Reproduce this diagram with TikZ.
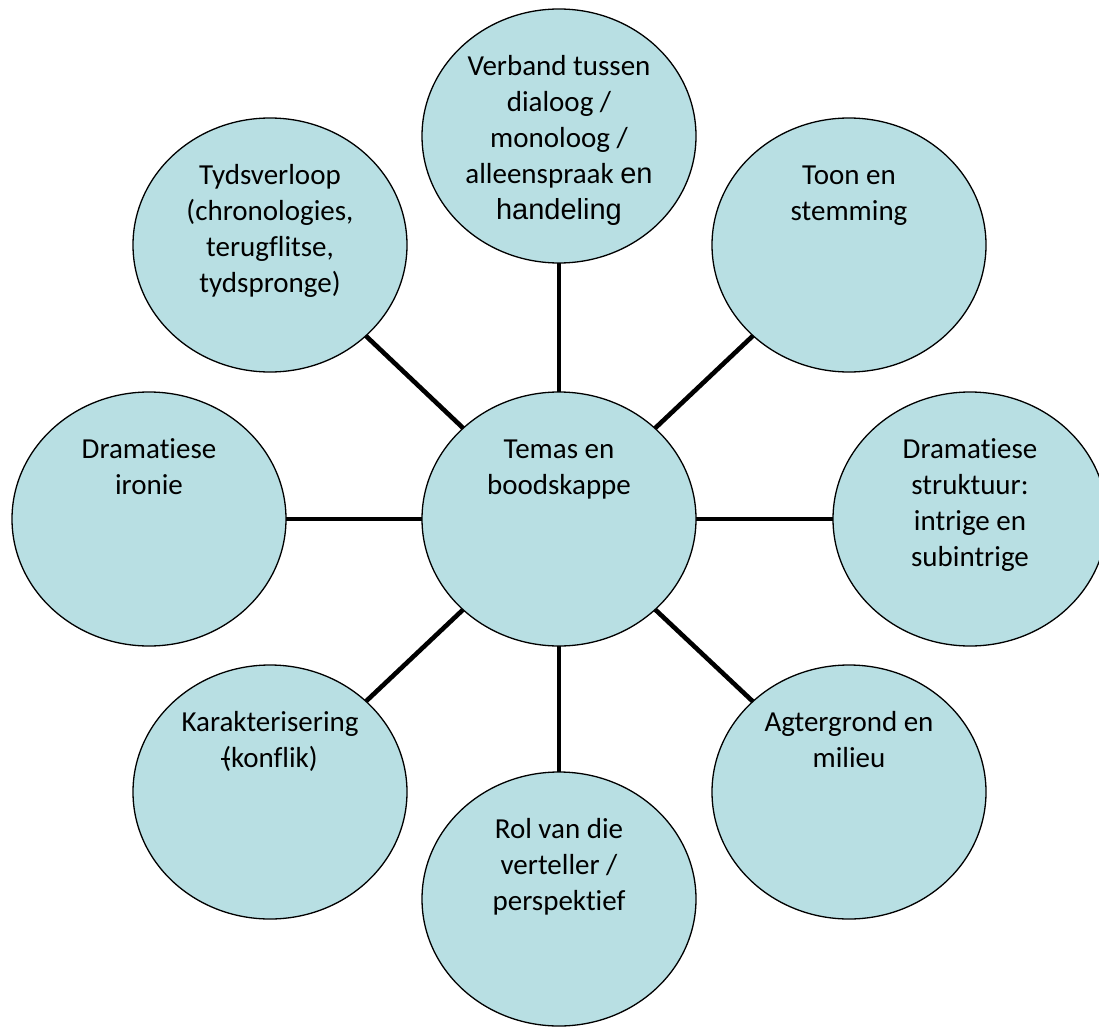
\documentclass[tikz,border=0pt]{standalone}
\usepackage{fontspec}
\setmainfont{Carlito}[Ligatures={NoCommon}]
\newfontfamily\arialfont{Liberation Sans}
\usetikzlibrary{shapes.geometric}
\definecolor{bubblefill}{RGB}{184,223,227}
\tikzset{
  bubble/.style={ellipse, draw=black, line width=1.3pt, fill=bubblefill,
    minimum width=274pt, minimum height=254pt, inner sep=0pt},
  bubbletext/.style={anchor=base, inner sep=0pt,
    font=\fontsize{29}{36}\selectfont},
  spoke/.style={line width=4.6pt}
}
\newcommand{\btext}[1]{\parbox[t]{260pt}{\centering #1}}
\begin{document}
\begin{tikzpicture}[x=1pt, y=-1pt]
\useasboundingbox (0,0) rectangle (1099,1027);
\clip (0,0) rectangle (1099,1027);
% spokes first (behind)
\coordinate (pc) at (559,519);
\coordinate (pt) at (559,136);
\coordinate (pl) at (149,519);
\coordinate (pr) at (970,519);
\coordinate (pb) at (559,899);
\coordinate (ptl) at (270,245);
\coordinate (ptr) at (849,245);
\coordinate (pbl) at (270,792);
\coordinate (pbr) at (849,792);
\foreach \p in {pt,pl,pr,pb,ptl,ptr,pbl,pbr}{
  \draw[spoke] (pc) -- (\p);
}
% bubbles
\node[bubble] (c) at (pc) {};
\node[bubble] (t) at (pt) {};
\node[bubble] (l) at (pl) {};
\node[bubble] (r) at (pr) {};
\node[bubble] (b) at (pb) {};
\node[bubble] (tl) at (ptl) {};
\node[bubble] (tr) at (ptr) {};
\node[bubble] (bl) at (pbl) {};
\node[bubble] (br) at (pbr) {};
% texts
\node[bubbletext] (ct) at ([yshift=-67pt]c.north) {\btext{Temas en\\boodskappe}};
\node[bubbletext] (tt) at ([yshift=-67pt]t.north) {\btext{Verband tussen\\dialoog /\\monoloog /\\alleenspraak {\arialfont en}\\{\arialfont handeling}}};
\node[bubbletext] (lt) at ([yshift=-67pt]l.north) {\btext{Dramatiese\\ironie}};
\node[bubbletext] (rt) at ([yshift=-67pt]r.north) {\btext{Dramatiese\\struktuur:\\intrige en\\subintrige}};
\node[bubbletext] (bt) at ([yshift=-67pt]b.north) {\btext{Rol van die\\verteller /\\perspektief}};
\node[bubbletext] (tlt) at ([yshift=-67pt]tl.north) {\btext{Tydsverloop\\(chronologies,\\terugflitse,\\tydspronge)}};
\node[bubbletext] (trt) at ([yshift=-67pt]tr.north) {\btext{Toon en\\stemming}};
\node[bubbletext] (blt) at ([yshift=-67pt]bl.north) {\btext{Karakterisering\\\makebox[0pt][l]{\kern-0.04em\rule[0.26em]{0.32em}{0.05em}}(konflik)}};
\node[bubbletext] (brt) at ([yshift=-67pt]br.north) {\btext{Agtergrond en\\milieu}};
\end{tikzpicture}
\end{document}
